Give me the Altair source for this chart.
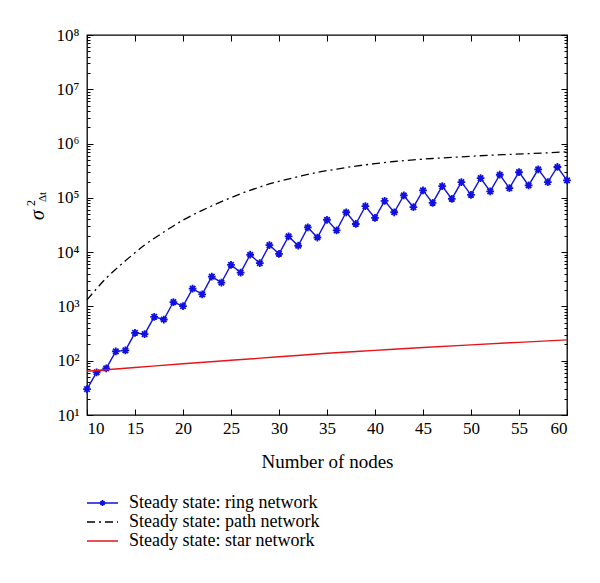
import altair as alt
import pandas as pd

# ---------------- data ----------------
ring_nodes = list(range(10, 61))
ring_values = [30, 61, 72, 149, 155, 326, 308, 644, 574, 1205, 1016, 2128, 1667,
               3548, 2748, 5848, 4207, 8954, 6252, 13490, 9330, 19500, 13120,
               28500, 18600, 39500, 25200, 54300, 33000, 70200, 42700, 87900,
               54300, 110700, 67300, 137000, 80800, 164800, 95800, 195400,
               113700, 231600, 131400, 266700, 151300, 299000, 169800, 335600,
               195400, 370400, 209900]

path_nodes = list(range(10, 61, 2))
path_values = [1318, 3311, 6918, 13490, 23440, 38900, 58880, 85110, 118900,
               158500, 201800, 245500, 295100, 338800, 384600, 426600, 467700,
               501200, 530900, 555900, 584800, 609500, 631000, 653100, 676100,
               707900]

star_nodes = [10, 15, 20, 25, 30, 35, 40, 45, 50, 55, 60]
star_values = [64, 75, 88, 102, 118, 137, 155, 175, 196, 218, 242]

legend_labels = ["Steady state: ring network",
                 "Steady state: path network",
                 "Steady state: star network"]

x_ticks = list(range(10, 61, 5))
major_y = [10 ** e for e in range(1, 9)]
minor_y = [k * 10 ** e for e in range(1, 8) for k in range(2, 10)]

# ---------------- styling ----------------
FONT = "Liberation Serif"
BLUE = "#1010e0"
RED = "#e8141c"
BLACK = "#000000"
DASHDOT = [8, 4, 2, 4]
ASTERISK = "M-1,0L1,0M0,-1L0,1M-0.7,-0.7L0.7,0.7M-0.7,0.7L0.7,-0.7"

W, H = 480, 380
X_SCALE = alt.Scale(domain=[10, 60], nice=False, zero=False)
Y_SCALE = alt.Scale(type="log", domain=[10, 1e8], nice=False)

sup = "['\u2070','\u00b9','\u00b2','\u00b3','\u2074','\u2075','\u2076','\u2077','\u2078','\u2079']"
label_expr = "'10' + " + sup + "[round(log(datum.value)/LN10)]"

ring_df = pd.DataFrame({"n": ring_nodes, "v": ring_values})
path_df = pd.DataFrame({"n": path_nodes, "v": path_values})
star_df = pd.DataFrame({"n": star_nodes, "v": star_values})

# path network: top x ticks, left minor y ticks
path = alt.Chart(path_df).mark_line(
    color=BLACK, strokeWidth=1.3, strokeDash=DASHDOT, interpolate="monotone"
).encode(
    x=alt.X("n:Q", scale=X_SCALE,
            axis=alt.Axis(orient="top", values=x_ticks, offset=-6, tickSize=6,
                          labels=False, title=None, domain=False, grid=False)),
    y=alt.Y("v:Q", scale=Y_SCALE,
            axis=alt.Axis(orient="left", values=minor_y, offset=-3, tickSize=3,
                          labels=False, title=None, domain=False, grid=False)),
)

# ring network line: right major y ticks
ring_line = alt.Chart(ring_df).mark_line(color=BLUE, strokeWidth=1.4).encode(
    x=alt.X("n:Q", scale=X_SCALE, axis=None),
    y=alt.Y("v:Q", scale=Y_SCALE,
            axis=alt.Axis(orient="right", values=major_y, offset=-6, tickSize=6,
                          labels=False, title=None, domain=False, grid=False)),
)

# ring network markers: right minor y ticks
ring_pts = alt.Chart(ring_df).mark_point(
    shape=ASTERISK, filled=False, color=BLUE, size=60, strokeWidth=1.8, opacity=1
).encode(
    x=alt.X("n:Q", scale=X_SCALE, axis=None),
    y=alt.Y("v:Q", scale=Y_SCALE,
            axis=alt.Axis(orient="right", values=minor_y, offset=-3, tickSize=3,
                          labels=False, title=None, domain=False, grid=False)),
)

# star network: main bottom x axis and left y axis with labels
star = alt.Chart(star_df).mark_line(color=RED, strokeWidth=1.4, interpolate="monotone").encode(
    x=alt.X("n:Q", scale=X_SCALE,
            axis=alt.Axis(orient="bottom", values=x_ticks, offset=-6, tickSize=6,
                          labelPadding=5, title="Number of nodes", titlePadding=16,
                          domain=False, grid=False)),
    y=alt.Y("v:Q", scale=Y_SCALE,
            axis=alt.Axis(orient="left", values=major_y, offset=-6, tickSize=6,
                          labelPadding=8, labelExpr=label_expr, title=None,
                          domain=False, grid=False)),
)

# y-axis title  sigma^2_{Delta t}
sigma = alt.Chart(alt.Data(values=[{"t": "\u03c3"}])).mark_text(
    angle=270, font=FONT, fontSize=20, fontStyle="italic", align="center",
    baseline="middle", color=BLACK
).encode(x=alt.value(-49), y=alt.value(180), text="t:N")
sq = alt.Chart(alt.Data(values=[{"t": "2"}])).mark_text(
    angle=270, font=FONT, fontSize=12, align="center", baseline="middle", color=BLACK
).encode(x=alt.value(-56), y=alt.value(168), text="t:N")
sub = alt.Chart(alt.Data(values=[{"t": "\u0394t"}])).mark_text(
    angle=270, font=FONT, fontSize=11, align="center", baseline="middle", color=BLACK
).encode(x=alt.value(-44), y=alt.value(162), text="t:N")

main = alt.layer(path, ring_line, ring_pts, star, sigma, sq, sub).properties(
    width=W, height=H,
    view=alt.ViewBackground(stroke=BLACK, strokeWidth=1.3),
).resolve_axis(x="independent", y="independent")

# ---------------- legend below ----------------
leg_df = pd.DataFrame({"label": legend_labels})
leg_y = alt.Y("label:N", sort=legend_labels, axis=None,
              scale=alt.Scale(type="point", padding=0))
leg_color = alt.Color("label:N", legend=None,
                      scale=alt.Scale(domain=legend_labels, range=[BLUE, BLACK, RED]))
leg_dash = alt.StrokeDash("label:N", legend=None,
                          scale=alt.Scale(domain=legend_labels,
                                          range=[[1, 0], DASHDOT, [1, 0]]))

leg_rules = alt.Chart(leg_df).mark_rule(strokeWidth=1.4).encode(
    y=leg_y, x=alt.value(0), x2=alt.value(31), color=leg_color, strokeDash=leg_dash
)
leg_pt = alt.Chart(leg_df).transform_filter(
    alt.datum.label == legend_labels[0]
).mark_point(shape=ASTERISK, filled=False, color=BLUE, size=35, strokeWidth=1.5,
             opacity=1).encode(y=leg_y, x=alt.value(15.5))
leg_text = alt.Chart(leg_df).mark_text(
    align="left", baseline="middle", font=FONT, fontSize=18, color=BLACK
).encode(y=leg_y, x=alt.value(42), text="label:N")

legend = alt.layer(leg_rules, leg_pt, leg_text).properties(width=W, height=38)

chart = alt.vconcat(main, legend, spacing=21).properties(
    padding={"left": 16, "top": 17, "right": 10, "bottom": 5}
).configure_view(stroke="transparent").configure_axis(
    labelFont=FONT, titleFont=FONT, labelFontSize=17, titleFontSize=19,
    titleFontWeight="normal", labelColor=BLACK, titleColor=BLACK,
    tickColor=BLACK, tickWidth=1
)

chart.save("out.html", embed_options={"renderer": "svg", "actions": False})
